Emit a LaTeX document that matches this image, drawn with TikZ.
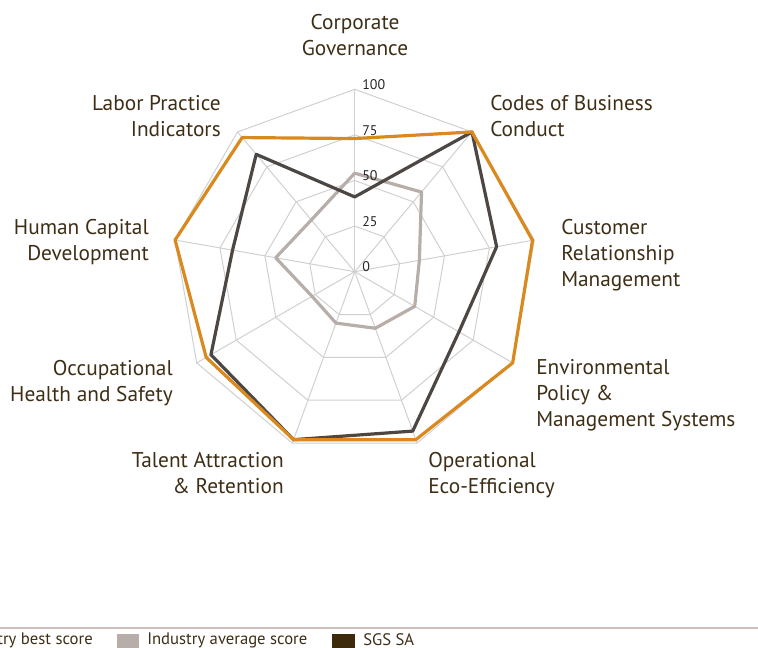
\documentclass[tikz,border=0pt]{standalone}
\usepackage{fontspec}
\setmainfont{PT Sans}
\usetikzlibrary{positioning}

\definecolor{bestcol}{RGB}{217,137,30}
\definecolor{sgscol}{RGB}{77,71,68}
\definecolor{avgcol}{RGB}{184,174,169}
\definecolor{gridcol}{RGB}{208,208,208}
\definecolor{labelcol}{RGB}{62,46,22}
\definecolor{sgsbox}{RGB}{61,42,12}
\definecolor{rulecol}{RGB}{205,192,186}

\tikzset{
  gridline/.style={draw=gridcol, line width=0.75pt},
  scoreline/.style={line width=2.4pt, line join=round},
  axislabel/.style={inner sep=0pt, text=labelcol, font=\fontsize{16}{19.5}\selectfont},
  ticklabel/.style={inner sep=0pt, text=black!85, font=\fontsize{10.5}{12}\selectfont, anchor=base west},
  legendtext/.style={inner sep=0pt, text=labelcol, font=\fontsize{12.5}{14}\selectfont},
}

\begin{document}
\begin{tikzpicture}[x=0.75pt,y=0.75pt,yscale=-1,xscale=1]
\useasboundingbox (0,0) rectangle (758,648);

%Radar grid, 9 axes, 4 rings
\begin{scope}[shift={(354.7,271.7)},yscale=-1]
\foreach \r in {1,...,4}
  \draw[gridline] (90:\r*45.6) \foreach \i in {1,...,8} { -- ({90-40*\i}:\r*45.6) } -- cycle;
\foreach \i in {0,...,8}
  \draw[gridline] (0,0) -- ({90-40*\i}:182.4);

%Score vertices
\foreach \v [count=\i from 0] in {54,57,36,38,33,30,27,44,37}
  \coordinate (a\i) at ({90-40*\i}:{\v*1.824});
\foreach \v [count=\i from 0] in {41,100,79,66,93,98,91,68,84}
  \coordinate (s\i) at ({90-40*\i}:{\v*1.824});
\foreach \v [count=\i from 0] in {73,100,99,100,98,98,94,100,96}
  \coordinate (b\i) at ({90-40*\i}:{\v*1.824});

%Shape: industry average
\draw[scoreline, avgcol] (a0) -- (a1) -- (a2) -- (a3) -- (a4) -- (a5) -- (a6) -- (a7) -- (a8) -- cycle;
%Shape: SGS SA
\draw[scoreline, sgscol] (s0) -- (s1) -- (s2) -- (s3) -- (s4) -- (s5) -- (s6) -- (s7) -- (s8) -- cycle;
%Shape: industry best
\draw[scoreline, bestcol] (b0) -- (b1) -- (b2) -- (b3) -- (b4) -- (b5) -- (b6) -- (b7) -- (b8) -- cycle;
\end{scope}

% Tick labels
\node[ticklabel] (t0) at (362,272) {0};
\node[ticklabel] (t25) at (362,226.5) {25};
\node[ticklabel] (t50) at (362,181) {50};
\node[ticklabel] (t75) at (362,135.5) {75};
\node[ticklabel] (t100) at (362,90) {100};

% Text Node
\node[axislabel, anchor=north, align=center] (corpgov) at (355,14) {Corporate\\Governance};
% Text Node
\node[axislabel, anchor=north west, align=left] (codes) at (490,95) {Codes of Business\\Conduct};
% Text Node
\node[axislabel, anchor=north west, align=left] (customer) at (561,219.5) {Customer\\Relationship\\Management};
% Text Node
\node[axislabel, anchor=north west, align=left] (environ) at (536,359.5) {Environmental\\Policy \&\\Management Systems};
% Text Node
\node[axislabel, anchor=north west, align=left] (operat) at (428,452) {Operational\\Eco-Efficiency};
% Text Node
\node[axislabel, anchor=north east, align=right] (talent) at (284,452) {Talent Attraction\\\& Retention};
% Text Node
\node[axislabel, anchor=north east, align=right] (occup) at (173,360) {Occupational\\Health and Safety};
% Text Node
\node[axislabel, anchor=north east, align=right] (human) at (149,219.5) {Human Capital\\Development};
% Text Node
\node[axislabel, anchor=north east, align=right] (labor) at (221,95) {Labor Practice\\Indicators};

% Legend
\draw[rulecol, line width=0.9pt] (0,628) -- (758,628);
\node[legendtext, anchor=north east] (bestleg) at (93,633) {Industry best score};
\fill[avgcol] (117,634) rectangle (139,656);
\node[legendtext, anchor=north west] (avgleg) at (147,633) {Industry average score};
\fill[sgsbox] (332,634) rectangle (355,656);
\node[legendtext, anchor=north west] (sgsleg) at (363,633) {SGS SA};
\end{tikzpicture}
\end{document}
